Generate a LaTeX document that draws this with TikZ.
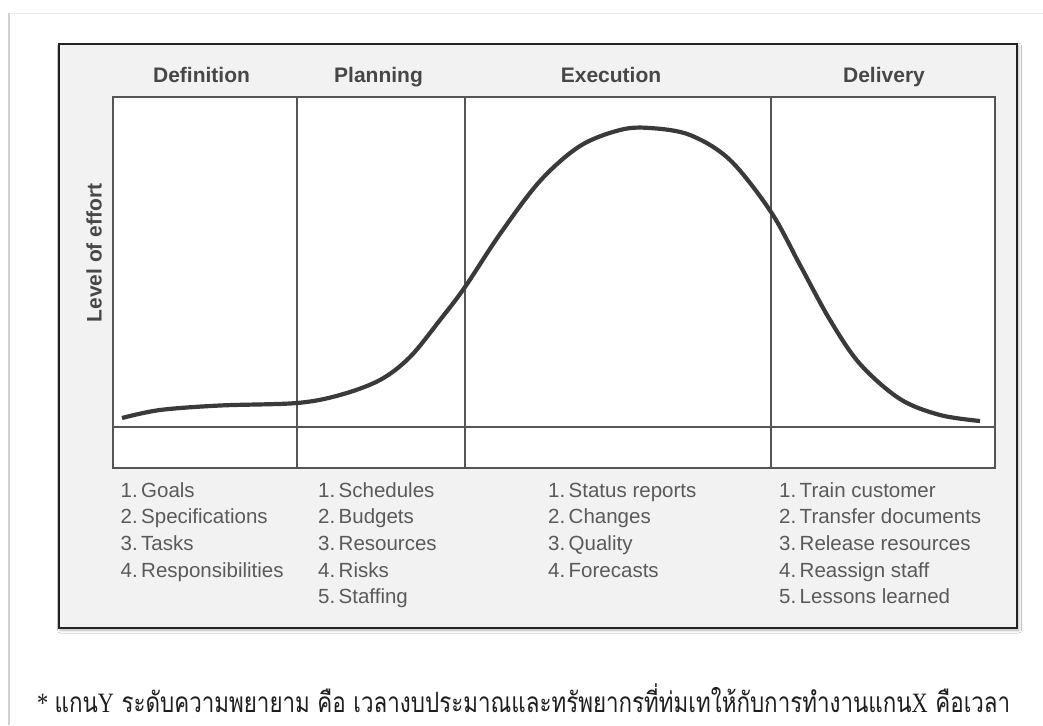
\documentclass[tikz,border=0pt]{standalone}
\usepackage{fontspec}
\setmainfont{Liberation Sans}
\newfontfamily\thaifont[Script=Thai]{Loma}
\newfontfamily\latinserif{Liberation Serif}
\usetikzlibrary{shadows.blur}

\definecolor{framefill}{HTML}{F2F2F2}
\definecolor{frameline}{HTML}{232323}
\definecolor{gridline}{HTML}{555555}
\definecolor{curvecol}{HTML}{3A3A3A}
\definecolor{headtext}{HTML}{474747}
\definecolor{listtext}{HTML}{5A5A5A}
\definecolor{pageedge}{HTML}{D2D2D2}
\definecolor{pagetop}{HTML}{EBEBEB}
\definecolor{notetext}{HTML}{1E1E1E}

\tikzset{
  frame/.style={draw=frameline, line width=2.6pt, fill=framefill,
    blur shadow={shadow xshift=1.5pt, shadow yshift=-2pt,
      shadow blur radius=3pt, shadow opacity=30}},
  chartline/.style={draw=gridline, line width=2pt},
  effort/.style={draw=curvecol, line width=4.2pt, line cap=butt},
  phase/.style={inner sep=0pt, anchor=base, text=headtext,
    font=\bfseries\fontsize{21}{25}\selectfont},
  item/.style={inner sep=0pt, anchor=base west, text=listtext,
    font=\fontsize{20.5}{24}\selectfont},
  axislabel/.style={inner sep=0pt, anchor=base, rotate=90, text=headtext,
    font=\bfseries\fontsize{21}{25}\selectfont},
  note/.style={inner sep=0pt, anchor=base west, text=notetext}
}

\begin{document}
\begin{tikzpicture}[x=1pt, y=-1pt]
\useasboundingbox (0,0) rectangle (1043,725);
\fill[white] (0,0) rectangle (1043,725);

% sheet edges
\draw[pagetop, line width=1.2pt] (9,13.5) -- (1043,13.5);
\draw[pageedge, line width=1.8pt] (9,13.5) -- (9,725);

% outer frame
\path[frame] (59,44) rectangle (1017,628);

% chart area
\coordinate (cTL) at (113,97);
\coordinate (cBR) at (995,468);
\filldraw[chartline, fill=white] (cTL) rectangle (cBR);
\coordinate (baseL) at (113,427);
\coordinate (baseR) at (995,427);
\draw[chartline] (baseL) -- (baseR);
\foreach \x [count=\i] in {297,465,771}{
  \coordinate (dTop\i) at (\x,97);
  \coordinate (dBot\i) at (\x,468);
  \draw[chartline] (dTop\i) -- (dBot\i);
}

% level of effort curve
\draw[effort] plot[smooth, tension=0.55] coordinates {
  (122,418) (160,410) (220,405.5) (297,403) (340,395) (380,380)
  (410,357) (440,320) (465,287) (500,234) (540,181) (580,146)
  (620,130) (650,128) (690,135) (730,160) (771,212) (800,265)
  (830,320) (860,364) (900,399) (940,415) (980,421)};

% phase headings
\node[phase] (hDef)  at (201.5,82) {Definition};
\node[phase] (hPlan) at (378.5,82) {Planning};
\node[phase] (hExec) at (611,82)   {Execution};
\node[phase] (hDel)  at (884,82)   {Delivery};

% vertical axis label
\node[axislabel] (yLabel) at (101.5,253) {Level of effort};

% activities per phase
\foreach \t [count=\i] in {Goals, Specifications, Tasks, Responsibilities}
  \node[item] (def\i) at (120.5,{497+(\i-1)*26.7}) {\i.\,\t};
\foreach \t [count=\i] in {Schedules, Budgets, Resources, Risks, Staffing}
  \node[item] (plan\i) at (318,{497+(\i-1)*26.7}) {\i.\,\t};
\foreach \t [count=\i] in {Status reports, Changes, Quality, Forecasts}
  \node[item] (exec\i) at (548,{497+(\i-1)*26.7}) {\i.\,\t};
\foreach \t [count=\i] in {Train customer, Transfer documents, Release resources, Reassign staff, Lessons learned}
  \node[item] (del\i) at (779,{497+(\i-1)*26.7}) {\i.\,\t};

% footnote
\node[note] (footnote) at (37,712) {\resizebox{973pt}{\height}{\fontsize{28}{32}\selectfont
  {\latinserif *} \thaifont แกน{\latinserif Y} ระดับความพยายาม คือ เวลางบประมาณและทรัพยากรที่ท่มเทให้กับการทำงานแกน{\latinserif X} คือเวลา}};
\end{tikzpicture}
\end{document}
